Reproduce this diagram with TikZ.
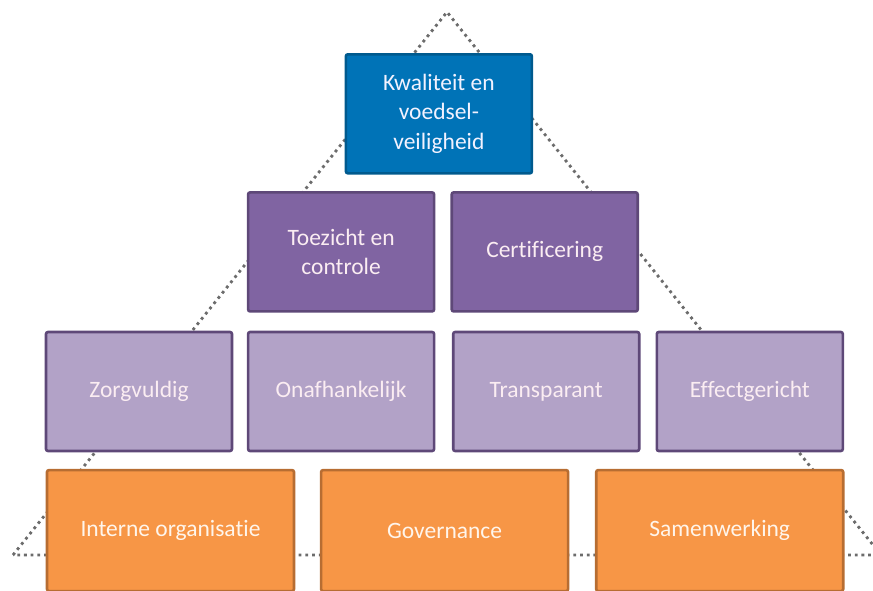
\documentclass[tikz,border=0pt]{standalone}
\usepackage{fontspec}
\setmainfont[Ligatures=NoCommon]{Carlito}
\usetikzlibrary{positioning, backgrounds}
\usepackage{xcolor}
\definecolor{topblue}{HTML}{0073B7}
\definecolor{topblueline}{HTML}{005A8E}
\definecolor{darkpurple}{HTML}{8064A2}
\definecolor{lightpurple}{HTML}{B2A2C7}
\definecolor{purpleline}{HTML}{5E4878}
\definecolor{basefill}{HTML}{F79646}
\definecolor{baseline}{HTML}{B76D32}
\definecolor{dotgray}{HTML}{6C6C6C}

\tikzset{
  pbox/.style={draw, line width=2.6pt, rounded corners=2pt, align=center,
    text=white!93!purple, font=\fontsize{23.5}{29.5}\selectfont,
    minimum width=186pt, minimum height=119pt, inner sep=2pt},
  topbox/.style={pbox, fill=topblue, draw=topblueline, text=white!95!blue},
  upperbox/.style={pbox, fill=darkpurple, draw=purpleline},
  midbox/.style={pbox, fill=lightpurple, draw=purpleline},
  basebox/.style={pbox, fill=basefill, draw=baseline, text=white!92!orange,
    minimum width=247pt, minimum height=121pt},
  pyramid/.style={draw=dotgray, line width=2.8pt, dash pattern=on 2.8pt off 3.9pt}
}

\begin{document}
\begin{tikzpicture}[x=1pt, y=-1pt]
    \clip (0,0) rectangle (873,590);
    \useasboundingbox (0,0) rectangle (873,590);

    % dotted pyramid behind the blocks
    \coordinate (apex) at (447,12);
    \coordinate (baseL) at (13,555);
    \coordinate (baseR) at (881,555);
    \draw[pyramid] (baseL) -- (apex) -- (baseR) -- cycle;

    % middle row
    \node[midbox] (zorg) at (139,391.5) {Zorgvuldig};
    \node[midbox, right=13.5pt of zorg] (onaf) {Onafhankelijk};
    \node[midbox, right=16.5pt of onaf] (trans) {Transparant};
    \node[midbox, right=15pt of trans] (effect) {Effectgericht};

    % upper rows
    \node[upperbox, above=18pt of onaf] (toezicht) {Toezicht en\\controle};
    \node[upperbox, right=15pt of toezicht] (cert) {Certificering};
    \node[topbox, above=16.5pt of toezicht.north east, anchor=south, xshift=3.5pt] (kwal) {Kwaliteit en\\voedsel-\\veiligheid};

    % base row
    \node[basebox, below=16.5pt of zorg.south west, anchor=north west, xshift=1pt] (intern) {Interne organisatie};
    \node[basebox, right=24.5pt of intern] (gov) {Governance};
    \node[basebox, right=25.5pt of gov] (samen) {Samenwerking};
\end{tikzpicture}
\end{document}
